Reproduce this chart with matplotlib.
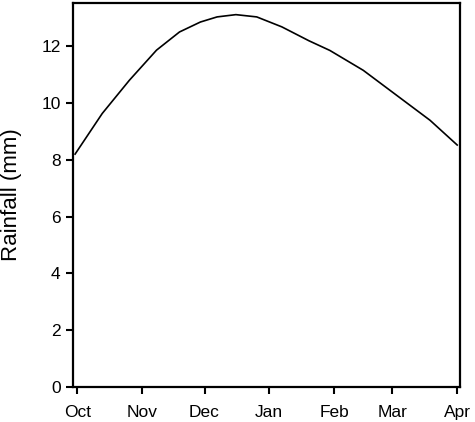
import matplotlib
matplotlib.use("Agg")
import matplotlib.pyplot as plt
import numpy as np

plt.rcParams['font.family'] = ['Liberation Sans', 'DejaVu Sans']

# values
dates = ['2022-09-30', '2022-10-13', '2022-10-26', '2022-11-08', '2022-11-19',
         '2022-11-29', '2022-12-07', '2022-12-16', '2022-12-26', '2023-01-07',
         '2023-01-20', '2023-01-30', '2023-02-15', '2023-03-03', '2023-03-19',
         '2023-04-01']
rainfall = [8.2, 9.63, 10.8, 11.86, 12.5,
            12.85, 13.03, 13.11, 13.03, 12.68,
            12.19, 11.85, 11.15, 10.27, 9.39,
            8.52]
month_ticks = ['2022-10-01', '2022-11-01', '2022-12-01', '2023-01-01',
               '2023-02-01', '2023-03-01', '2023-04-01']
month_labels = ['Oct', 'Nov', 'Dec', 'Jan', 'Feb', 'Mar', 'Apr']

x = np.array(dates, dtype='datetime64[D]')
ticks = np.array(month_ticks, dtype='datetime64[D]')

fig = plt.figure(figsize=(4.75, 4.22), dpi=100)
ax = fig.add_axes([0.1537, 0.0829, 0.8147, 0.91])

ax.plot(x, rainfall, color='black', lw=1.2)

ax.set_xlim(np.datetime64('2022-09-29T00:00'), np.datetime64('2023-04-02T08:00'))
ax.set_ylim(0, 13.52)
ax.set_xticks(ticks)
ax.set_xticklabels(month_labels)
ax.set_yticks([0, 2, 4, 6, 8, 10, 12])

ax.set_ylabel('Rainfall (mm)', fontsize=16, labelpad=14)
ax.tick_params(direction='out', length=5, width=1.5, labelsize=12.5, pad=4)
ax.tick_params(axis='x', pad=8)
for s in ax.spines.values():
    s.set_linewidth(1.6)

fig.savefig('out.png', dpi=100)
